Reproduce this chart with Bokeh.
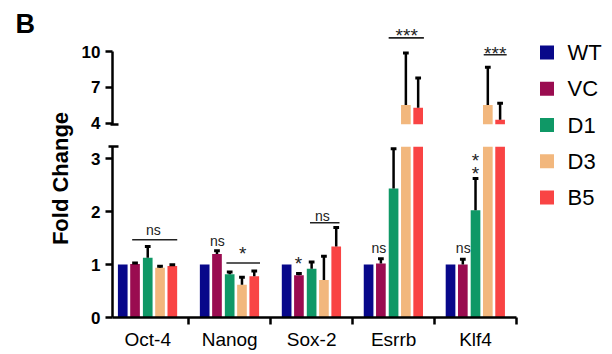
import math
import numpy as np
from bokeh.plotting import figure
from bokeh.layouts import row, column
from bokeh.models import Range1d, FixedTicker, Label
from bokeh.core.properties import value
from bokeh.embed import file_html
from bokeh.resources import INLINE

# ---------------- data ----------------
categories = ["Oct-4", "Nanog", "Sox-2", "Esrrb", "Klf4"]
groups = ["WT", "VC", "D1", "D3", "B5"]
colors = ["#08088a", "#9a0c50", "#0f9866", "#f2b77d", "#f94444"]

wt = [1.00, 1.00, 1.00, 1.00, 1.00]
vc = [1.01, 1.20, 0.80, 1.02, 1.00]
d1 = [1.13, 0.82, 0.92, 2.44, 2.03]
d3 = [0.94, 0.62, 0.71, 5.53, 5.53]
b5 = [0.975, 0.78, 1.34, 5.30, 4.27]

wt_err = [0.0, 0.0, 0.0, 0.0, 0.0]
vc_err = [0.02, 0.06, 0.03, 0.09, 0.10]
d1_err = [0.21, 0.04, 0.13, 0.75, 0.60]
d3_err = [0.03, 0.14, 0.45, 4.37, 3.17]
b5_err = [0.02, 0.10, 0.36, 2.50, 1.40]

lower_ticks = [0, 1, 2, 3]
upper_ticks = [4, 7, 10]

# significance annotations: (category index, offset, y, text)
ns_marks = [(0, 0.07, 1.66, "ns"), (1, -0.15, 1.45, "ns"), (2, 0.13, 1.92, "ns"),
            (3, -0.18, 1.31, "ns"), (4, -0.15, 1.31, "ns")]
star_marks_lower = [(1, 0.16, 1.21, "*"), (2, -0.16, 1.02, "*"),
                    (4, 0.0, 2.96, "*"), (4, 0.0, 2.72, "*")]
star_marks_upper = [(3, 0.16, 11.36, "***"), (4, 0.24, 9.88, "***")]
# significance lines: (category index, start offset, end offset, y)
sig_lines_lower = [(0, -0.19, 0.36, 1.47), (1, -0.04, 0.37, 1.03), (2, -0.02, 0.34, 1.79)]
sig_lines_upper = [(3, -0.06, 0.37, 11.18), (4, 0.10, 0.38, 9.75)]

series = [wt, vc, d1, d3, b5]
errors = [wt_err, vc_err, d1_err, d3_err, b5_err]
offsets = [-0.305, -0.155, 0.0, 0.15, 0.3]
FONT = "Liberation Sans"
BAR_W = 0.118
CAP = 0.035


def draw_bars(p, floor):
    xs_base = np.arange(len(categories))
    for vals, errs, off, c in zip(series, errors, offsets, colors):
        xs = xs_base + off
        keep = [i for i, v in enumerate(vals) if v > floor]
        if keep:
            p.vbar(x=[xs[i] for i in keep], top=[vals[i] for i in keep], bottom=floor,
                   width=BAR_W, fill_color=c, line_color=None)
        ek = [i for i, (v, e) in enumerate(zip(vals, errs)) if e > 0 and v + e > floor]
        if ek:
            ex = [xs[i] for i in ek]
            ey0 = [max(vals[i], floor) for i in ek]
            ey1 = [vals[i] + errs[i] for i in ek]
            p.segment(x0=ex, y0=ey0, x1=ex, y1=ey1, line_color="black", line_width=2.5)
            p.segment(x0=[x - CAP for x in ex], y0=ey1, x1=[x + CAP for x in ex], y1=ey1,
                      line_color="black", line_width=3)


def draw_marks(p, marks, size):
    p.text(x=[m[0] + m[1] for m in marks], y=[m[2] for m in marks], text=[m[3] for m in marks],
           text_font=value(FONT), text_font_size=size, text_align="center",
           text_baseline="middle", text_color="#222222")


def draw_lines(p, lines):
    p.segment(x0=[l[0] + l[1] for l in lines], x1=[l[0] + l[2] for l in lines],
              y0=[l[3] for l in lines], y1=[l[3] for l in lines],
              line_color="#222222", line_width=1.6)


def style_y(ax, ticks, minor, bounds, minor_out):
    ax.ticker = FixedTicker(ticks=ticks, minor_ticks=minor)
    ax.bounds = bounds
    ax.axis_line_width = 2.5
    ax.axis_line_color = "black"
    ax.major_tick_line_width = 2.5
    ax.major_tick_line_color = "black"
    ax.major_tick_out = 7
    ax.major_tick_in = 0
    ax.minor_tick_line_width = 2.5
    ax.minor_tick_line_color = "black"
    ax.minor_tick_in = 6
    ax.minor_tick_out = minor_out
    ax.major_label_standoff = 5
    ax.major_label_text_font = FONT
    ax.major_label_text_font_style = "bold"
    ax.major_label_text_font_size = "17px"
    ax.major_label_text_color = "black"


X_RANGE = (-0.43, 4.5)
LABEL_W = 76
MAIN_W = 444
BORDER_L = 112 - LABEL_W
UP_LO = 3.88
LO_HI = 3.233

# ---------------- upper panel ----------------
up = figure(width=MAIN_W, height=134, output_backend="svg", toolbar_location=None,
            x_range=Range1d(*X_RANGE), y_range=Range1d(UP_LO, 12.81),
            x_axis_location=None, min_border_left=BORDER_L, min_border_right=4,
            min_border_top=18, min_border_bottom=10)
up.outline_line_color = None
up.xgrid.visible = False
up.ygrid.visible = False
draw_bars(up, UP_LO)
draw_marks(up, star_marks_upper, "19px")
draw_lines(up, sig_lines_upper)
style_y(up.yaxis[0], upper_ticks, [UP_LO + 0.02], (UP_LO, 10), 2)

# ---------------- lower panel ----------------
lo = figure(width=MAIN_W, height=218, output_backend="svg", toolbar_location=None,
            x_range=Range1d(*X_RANGE), y_range=Range1d(0, LO_HI),
            min_border_left=BORDER_L, min_border_right=4, min_border_top=12, min_border_bottom=34)
lo.outline_line_color = None
lo.xgrid.visible = False
lo.ygrid.visible = False
draw_bars(lo, 0)
draw_marks(lo, ns_marks, "14px")
draw_marks(lo, star_marks_lower, "19px")
draw_lines(lo, sig_lines_lower)
style_y(lo.yaxis[0], lower_ticks, [LO_HI - 0.008], (0, LO_HI), 4)

xa = lo.xaxis[0]
xa.ticker = FixedTicker(ticks=list(range(len(categories))),
                        minor_ticks=[i + 0.5 for i in range(len(categories))])
xa.major_label_overrides = {i: c for i, c in enumerate(categories)}
xa.axis_line_width = 2.5
xa.axis_line_color = "black"
xa.major_tick_out = 0
xa.major_tick_in = 0
xa.major_tick_line_color = None
xa.minor_tick_out = 7
xa.minor_tick_in = 0
xa.minor_tick_line_width = 2.5
xa.minor_tick_line_color = "black"
xa.major_label_standoff = 4
xa.major_label_text_font = FONT
xa.major_label_text_font_size = "19px"
xa.major_label_text_color = "black"

TOTAL_H = 352

# ---------------- left label column ----------------
lab = figure(width=LABEL_W, height=TOTAL_H, output_backend="svg", toolbar_location=None,
             x_range=Range1d(0, LABEL_W), y_range=Range1d(0, TOTAL_H),
             x_axis_location=None, y_axis_location=None, min_border=0)
lab.outline_line_color = None
lab.xgrid.visible = False
lab.ygrid.visible = False
lab.add_layout(Label(x=60, y=TOTAL_H - 178, text="Fold Change", angle=math.pi / 2,
                     text_align="center", text_baseline="middle", text_font=FONT,
                     text_font_style="bold", text_font_size="22px", text_color="black"))
lab.add_layout(Label(x=15, y=TOTAL_H - 23, text="B", text_align="left", text_baseline="middle",
                     text_font=FONT, text_font_style="bold", text_font_size="27px",
                     text_color="black"))

# ---------------- legend column ----------------
ITEM_PX = 36.25
top_val = -52 / ITEM_PX
leg = figure(width=84, height=TOTAL_H, output_backend="svg", toolbar_location=None,
             x_range=Range1d(0, 84), y_range=Range1d(top_val + TOTAL_H / ITEM_PX, top_val),
             x_axis_location=None, y_axis_location=None, min_border=0)
leg.outline_line_color = None
leg.xgrid.visible = False
leg.ygrid.visible = False
gidx = list(range(len(groups)))
leg.scatter(x=[26.5] * len(groups), y=gidx, marker="square", size=14,
            fill_color=colors, line_color=None)
leg.text(x=[47] * len(groups), y=gidx, text=groups, text_font=value(FONT),
         text_font_size="22px", text_align="left", text_baseline="middle", text_color="black")

layout = row(lab, column(up, lo), leg)

open("out.html", "w").write(file_html(layout, INLINE))
